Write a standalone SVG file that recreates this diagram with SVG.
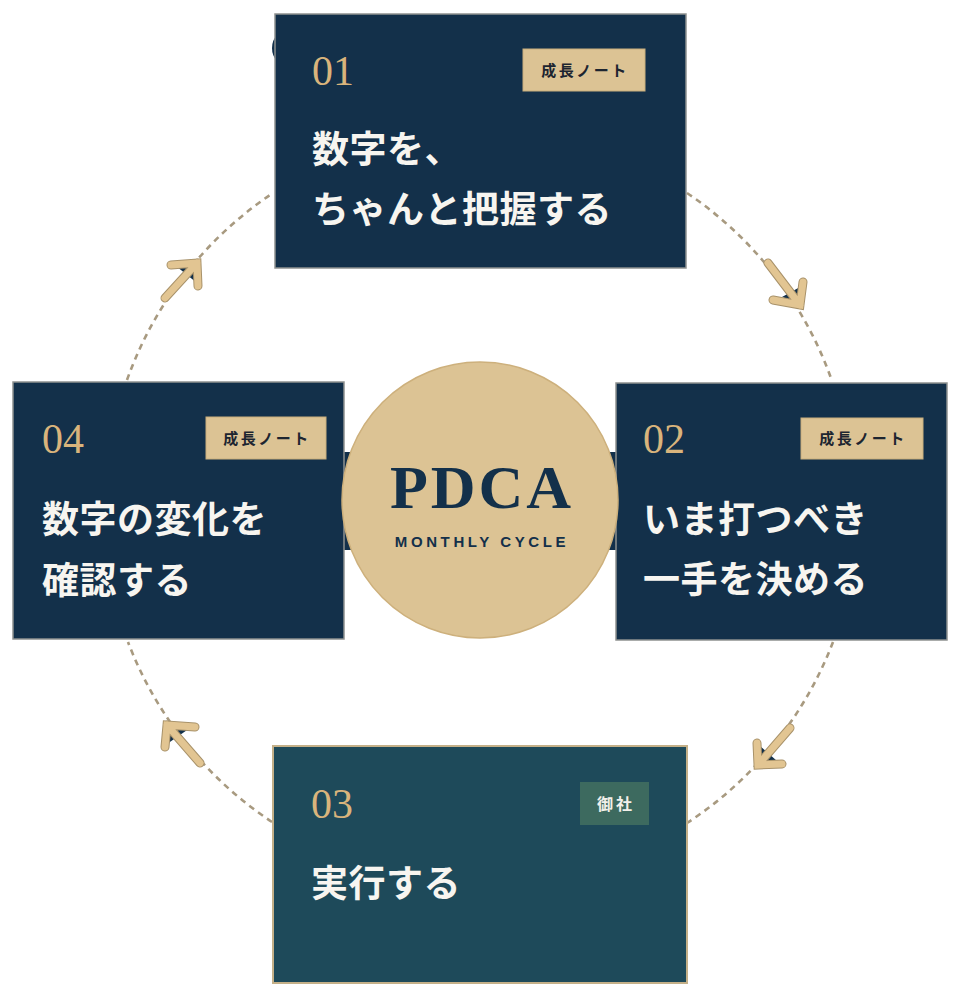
<svg xmlns="http://www.w3.org/2000/svg" width="960" height="1000" viewBox="0 0 960 1000">
<defs>
<style>
.box{fill:#13304a;stroke:#8e9190;stroke-width:1.5}
.box3{fill:#1e4a5a;stroke:#c4b088;stroke-width:2}
.num{font-family:"Liberation Serif","DejaVu Serif",serif;font-size:42px;fill:#d9b47c}
.title{font-family:"Noto Sans CJK JP","Noto Sans",sans-serif;font-size:37px;font-weight:700;fill:#f7f5f0;letter-spacing:0.5px}
.badge{fill:#dcc394;stroke:#c9ae7c;stroke-width:1}
.badge3{fill:#3d6a5f}
.btxt{font-family:"Noto Sans CJK JP","Noto Sans",sans-serif;font-size:15px;font-weight:700;fill:#1d2530;letter-spacing:2.5px;text-anchor:middle}
.btxt3{font-family:"Noto Sans CJK JP","Noto Sans",sans-serif;font-size:16px;font-weight:700;fill:#f2f0ea;letter-spacing:3px;text-anchor:middle}
.arc{fill:none;stroke:#a89a80;stroke-width:2.6;stroke-dasharray:6 5}
.arrU{fill:none;stroke:#a8926a;stroke-width:9;stroke-linecap:round;stroke-linejoin:miter}
.arr{fill:none;stroke:#e2c592;stroke-width:7;stroke-linecap:round;stroke-linejoin:miter}
.shadow{fill:#13304a}
</style>
</defs>
<rect width="960" height="1000" fill="#ffffff"/>
<g id="connectors">
<path class="arc" d="M687 193 A377 377 0 0 1 832 381"/>
<path class="arc" d="M833 642 A377 377 0 0 1 687 823"/>
<path class="arc" d="M272 822 A377 377 0 0 1 128 642"/>
<path class="arc" d="M127 380 A377 377 0 0 1 273 193"/>
<g id="arrow-tr">
<polygon class="shadow" points="799,303 800,287 782,297"/>
<path class="arrU" d="M768 263 L800 305 M803 282 L800 305 L773 300"/>
<path class="arr" d="M768 263 L800 305 M803 282 L800 305 L773 300"/>
</g>
<g id="arrow-br">
<polygon class="shadow" points="760,763 760,746 777,761"/>
<path class="arrU" d="M790 728 L758 765 M757 743 L758 765 L782 764"/>
<path class="arr" d="M790 728 L758 765 M757 743 L758 765 L782 764"/>
</g>
<g id="arrow-bl">
<polygon class="shadow" points="168,727 190,728 167,744"/>
<path class="arrU" d="M200 763 L167 725 M195 727 L167 725 L165 747"/>
<path class="arr" d="M200 763 L167 725 M195 727 L167 725 L165 747"/>
</g>
<g id="arrow-tl">
<polygon class="shadow" points="196,265 176,266 197,283"/>
<path class="arrU" d="M165 298 L197 263 M171 265 L197 263 L198 286"/>
<path class="arr" d="M165 298 L197 263 M171 265 L197 263 L198 286"/>
</g>
</g>
<ellipse cx="288" cy="48" rx="16" ry="18" fill="#13304a"/>
<rect x="340" y="452" width="280" height="98" fill="#13304a"/>
<g id="node-01">
<rect class="box" x="275" y="14" width="411" height="254"/>
<text class="num" x="312" y="85">01</text>
<rect class="badge" x="523" y="49" width="122" height="42"/>
<text class="btxt" x="585" y="76">成長ノート</text>
<text class="title" x="312" y="163">数字を、</text>
<text class="title" x="312" y="223">ちゃんと把握する</text>
</g>
<g id="node-02">
<rect class="box" x="616" y="383" width="331" height="257"/>
<text class="num" x="643" y="453">02</text>
<rect class="badge" x="801" y="418" width="122" height="41"/>
<text class="btxt" x="863" y="444">成長ノート</text>
<text class="title" x="643" y="533">いま打つべき</text>
<text class="title" x="643" y="593">一手を決める</text>
</g>
<g id="node-03">
<rect class="box3" x="273" y="746" width="414" height="237"/>
<text class="num" x="311" y="818">03</text>
<rect class="badge3" x="580" y="782" width="69" height="43"/>
<text class="btxt3" x="616" y="810">御社</text>
<text class="title" x="311" y="897">実行する</text>
</g>
<g id="node-04">
<rect class="box" x="13" y="382" width="331" height="257"/>
<text class="num" x="42" y="453">04</text>
<rect class="badge" x="206" y="417" width="120" height="42"/>
<text class="btxt" x="267" y="444">成長ノート</text>
<text class="title" x="42" y="533">数字の変化を</text>
<text class="title" x="42" y="594">確認する</text>
</g>
<g id="center">
<circle cx="480" cy="500" r="138" fill="#dcc394" stroke="#cdb07c" stroke-width="1.5"/>
<text x="482" y="508" font-family="Liberation Serif,DejaVu Serif,serif" font-size="62" font-weight="700" fill="#13304a" letter-spacing="3" text-anchor="middle">PDCA</text>
<text x="482" y="547" font-family="Liberation Sans,Arial,sans-serif" font-size="15" font-weight="700" fill="#13304a" letter-spacing="3.6" text-anchor="middle">MONTHLY CYCLE</text>
</g>
</svg>
